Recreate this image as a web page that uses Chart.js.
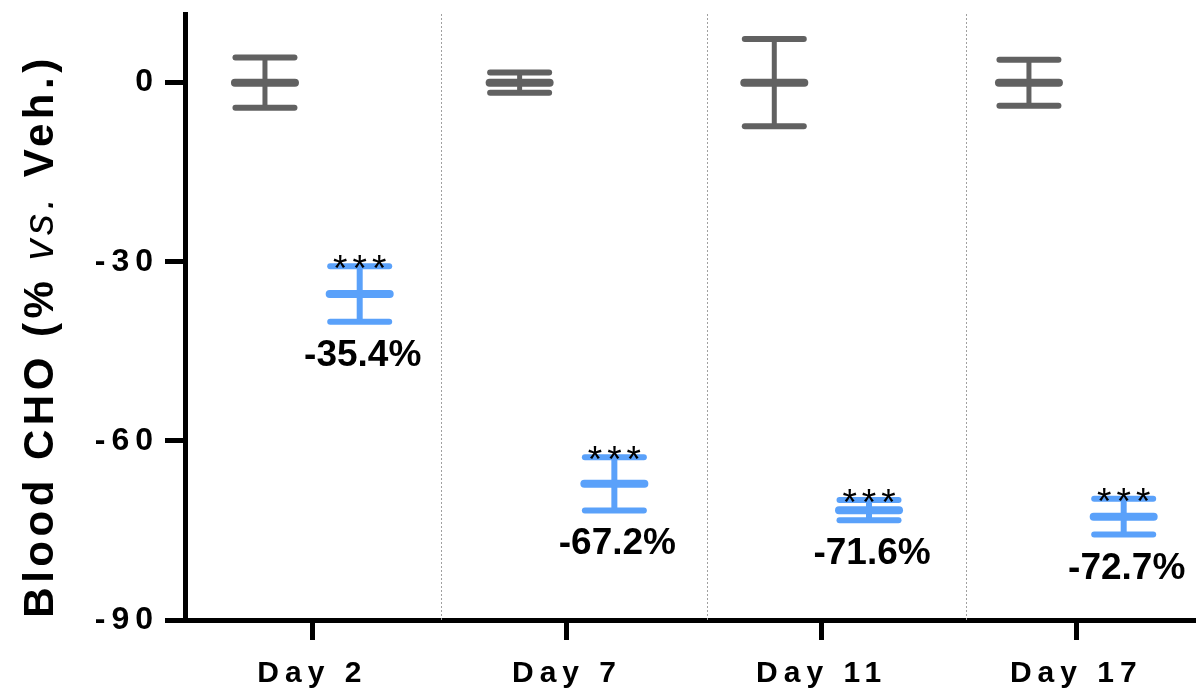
<!DOCTYPE html>
<html><head><meta charset="utf-8">
<script src="https://cdn.jsdelivr.net/npm/chart.js@4.4.1/dist/chart.umd.min.js"></script>
<style>html,body{margin:0;padding:0;background:#fff;} #wrap{width:1196px;height:692px;position:relative}</style>
</head><body><div id="wrap"><canvas id="c" width="1196" height="692"></canvas></div>
<script>
// ---- data ----
const categories = ['Day 2', 'Day 7', 'Day 11', 'Day 17'];
const vehMean = [0, 0, 0, 0];
const vehErr = [4.2, 1.7, 7.3, 3.85];
const trtMean = [-35.4, -67.2, -71.6, -72.7];
const trtErr = [4.65, 4.45, 1.7, 3.0];
const sigLabels = ['***', '***', '***', '***'];
const yTicks = [-90, -60, -30, 0];
const dividers = [1.505, 2.55, 3.567];
const yTitleParts = [['Blood CHO (% ', 'bold'], ['vs.', 'italic'], [' Veh.)', 'bold']];

// ---- style ----
const GREY = '#616161';
const BLUE = '#5aa1fa';
const OFFSET = 0.186;
const FONT = '"Liberation Sans", Arial, Helvetica, sans-serif';

const vehPts = vehMean.map((v, i) => ({x: i + 1 - OFFSET, y: v}));
const trtPts = trtMean.map((v, i) => ({x: i + 1 + OFFSET, y: v}));

const errorBarPlugin = {
  id: 'errbars',
  beforeDatasetsDraw(chart) {
    const {ctx, scales: {x, y}, chartArea} = chart;
    ctx.save();
    ctx.strokeStyle = '#a0a0a0';
    ctx.lineWidth = 1;
    ctx.setLineDash([2, 2]);
    dividers.forEach(d => {
      const px = Math.round(x.getPixelForValue(d)) + 0.5;
      ctx.beginPath(); ctx.moveTo(px, chartArea.top); ctx.lineTo(px, chartArea.bottom); ctx.stroke();
    });
    ctx.restore();
    const draw = (means, errs, off, color, stemW) => {
      ctx.save();
      ctx.strokeStyle = color;
      means.forEach((m, i) => {
        const cx = x.getPixelForValue(i + 1 + off);
        const yt = y.getPixelForValue(m + errs[i]);
        const yb = y.getPixelForValue(m - errs[i]);
        ctx.lineWidth = stemW;
        ctx.lineCap = 'butt';
        ctx.beginPath(); ctx.moveTo(cx, yt); ctx.lineTo(cx, yb); ctx.stroke();
        ctx.lineCap = 'round';
        ctx.lineWidth = 6;
        ctx.beginPath(); ctx.moveTo(cx - 29.5, yt); ctx.lineTo(cx + 29.5, yt); ctx.stroke();
        ctx.beginPath(); ctx.moveTo(cx - 29.5, yb); ctx.lineTo(cx + 29.5, yb); ctx.stroke();
      });
      ctx.restore();
    };
    draw(vehMean, vehErr, -OFFSET, GREY, 5);
    draw(trtMean, trtErr, OFFSET, BLUE, 6);
    ctx.lineCap = 'round';
  },
  afterDatasetsDraw(chart) {
    const {ctx, scales: {x, y}} = chart;
    ctx.lineCap = 'butt';
    ctx.save();
    ctx.fillStyle = '#000';
    trtMean.forEach((m, i) => {
      const cx = x.getPixelForValue(i + 1 + OFFSET);
      const yt = y.getPixelForValue(m + trtErr[i]);
      const yb = y.getPixelForValue(m - trtErr[i]);
      ctx.font = '37px ' + FONT;
      ctx.letterSpacing = '5px';
      ctx.textAlign = 'center';
      ctx.textBaseline = 'alphabetic';
      ctx.fillText(sigLabels[i], cx + 2.5, yt + 15);
      ctx.letterSpacing = '0px';
      ctx.font = 'bold 37px ' + FONT;
      ctx.fillText(m.toFixed(1) + '%', cx + 3, yb + 44);
    });
    ctx.restore();
  },
  afterDraw(chart) {
    const {ctx} = chart;
    ctx.save();
    ctx.translate(53, 336);
    ctx.rotate(-Math.PI / 2);
    ctx.fillStyle = '#000';
    ctx.textBaseline = 'alphabetic';
    ctx.textAlign = 'left';
    ctx.letterSpacing = '4.5px';
    const fontOf = s => (s === 'bold' ? 'bold 42px ' : 'italic 42px ') + FONT;
    let total = 0;
    const widths = yTitleParts.map(([t, s]) => { ctx.font = fontOf(s); const w = ctx.measureText(t).width; total += w; return w; });
    let pos = -total / 2;
    yTitleParts.forEach(([t, s], i) => { ctx.font = fontOf(s); ctx.fillText(t, pos, 0); pos += widths[i]; });
    ctx.restore();
  }
};

const spacingPlugin = {
  id: 'spacing',
  afterUpdate(chart) {
    const wrap = (scale, ls) => {
      if (!scale || scale._lsWrapped) return;
      const orig = scale.drawLabels.bind(scale);
      scale.drawLabels = function (area) {
        const c = this.ctx; c.save(); c.letterSpacing = ls; orig(area); c.restore();
      };
      scale._lsWrapped = true;
    };
    wrap(chart.scales.x, '6px');
    wrap(chart.scales.y, '6px');
  }
};

const zeroPad = s => { s.paddingLeft = 0; s.paddingRight = 0; s.paddingTop = 0; s.paddingBottom = 0; };

new Chart(document.getElementById('c'), {
  type: 'scatter',
  data: {
    datasets: [
      {label: 'Veh.', data: vehPts, pointStyle: 'line', pointRadius: 30, pointHoverRadius: 30,
       borderColor: GREY, backgroundColor: GREY, borderWidth: 8, pointBorderWidth: 8, clip: false},
      {label: 'Treated', data: trtPts, pointStyle: 'line', pointRadius: 30, pointHoverRadius: 30,
       borderColor: BLUE, backgroundColor: BLUE, borderWidth: 8, pointBorderWidth: 8, clip: false}
    ]
  },
  options: {
    responsive: false,
    animation: false,
    events: [],
    layout: {autoPadding: false, padding: {top: 14, left: 0, right: 0, bottom: 0}},
    plugins: {legend: {display: false}, tooltip: {enabled: false}, title: {display: false}},
    scales: {
      x: {
        type: 'linear', min: 0.5, max: 4.47,
        afterBuildTicks: s => { s.ticks = categories.map((c, i) => ({value: i + 1})); },
        afterFit: s => { s.height = 72; zeroPad(s); },
        ticks: {callback: v => categories[v - 1], font: {family: FONT, size: 30, weight: 'bold'}, color: '#000', padding: 16, maxRotation: 0, autoSkip: false},
        grid: {drawOnChartArea: false, drawTicks: true, tickLength: 20, tickWidth: 5, tickColor: '#000'},
        border: {display: true, width: 5, color: '#000'}
      },
      y: {
        type: 'linear', min: -90, max: 11.5,
        afterBuildTicks: s => { s.ticks = yTicks.map(v => ({value: v})); },
        afterFit: s => { s.width = 185; zeroPad(s); },
        ticks: {font: {family: FONT, size: 32, weight: 'bold'}, color: '#000', padding: 6},
        grid: {drawOnChartArea: false, drawTicks: true, tickLength: 20, tickWidth: 5, tickColor: '#000'},
        border: {display: true, width: 5, color: '#000'}
      }
    }
  },
  plugins: [errorBarPlugin, spacingPlugin]
});
</script>
</body></html>
